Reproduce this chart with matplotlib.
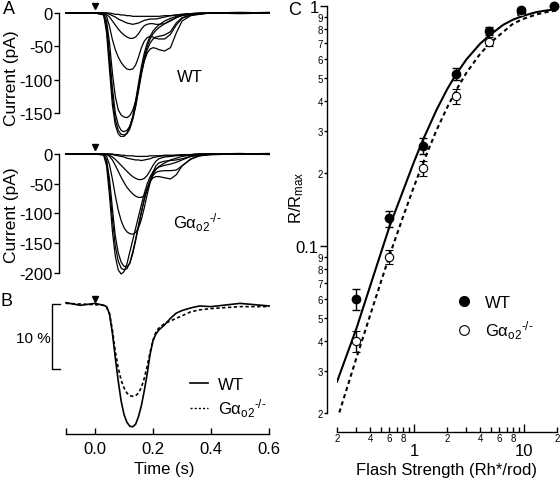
import matplotlib
matplotlib.use("Agg")
import matplotlib.pyplot as plt
from matplotlib.lines import Line2D
from matplotlib.ticker import FixedLocator, FixedFormatter

plt.rcParams['font.family'] = ['Liberation Sans', 'DejaVu Sans']
plt.rcParams['mathtext.fontset'] = 'custom'
plt.rcParams['mathtext.rm'] = 'Liberation Sans'
plt.rcParams['mathtext.it'] = 'Liberation Sans'
plt.rcParams['axes.linewidth'] = 1.0

# ---- data ----
# time samples (s) for the photocurrent traces
t = [-0.10, -0.05, 0.00, 0.03, 0.04, 0.05, 0.06, 0.07, 0.08, 0.09, 0.10, 0.11,
     0.12, 0.13, 0.14, 0.15, 0.16, 0.17, 0.18, 0.19, 0.20, 0.21, 0.22, 0.24,
     0.26, 0.28, 0.30, 0.33, 0.36, 0.40, 0.50, 0.60]
flash_time = 0.0

# WT family (pA)
wt_traces = [
    [0, 0, 0, -3, -30, -85, -138, -168, -181, -186, -185, -180, -170, -155, -132, -105,
     -80, -60, -45, -35, -27, -22, -18, -12, -8, -5, -3, -2, -1, 0, 1, 0],
    [0, 0, 0, -2, -22, -72, -125, -160, -176, -182, -183, -181, -174, -160, -140, -113,
     -87, -66, -50, -39, -31, -26, -22, -16, -11, -7, -4, -2, -1, 0, 0, 1],
    [0, 0, 0, -2, -18, -62, -112, -150, -168, -176, -178, -176, -170, -158, -140, -117,
     -92, -70, -55, -45, -39, -36, -35, -33, -28, -15, -7, -3, -1, 0, -1, 0],
    [0, 0, 0, -1, -12, -45, -90, -125, -145, -153, -156, -157, -154, -146, -132, -112,
     -90, -72, -60, -54, -52, -53, -55, -57, -52, -30, -12, -4, -2, 0, 0, 0],
    [0, 0, 0, 0, -5, -20, -40, -55, -66, -74, -80, -84, -85, -84, -78, -66,
     -52, -42, -37, -35, -36, -38, -39, -39, -32, -18, -8, -3, -1, 0, 0, 0],
    [0, 0, 0, 0, -2, -6, -12, -18, -24, -29, -33, -36, -38, -38, -36, -31,
     -24, -19, -17, -16, -16, -17, -17, -16, -12, -7, -3, -1, 0, 0, 0, 0],
    [0, 0, 0, 0, 0, -2, -4, -6, -9, -11, -13, -15, -16, -17, -16, -15,
     -13, -11, -10, -9, -9, -9, -8, -6, -4, -3, -2, -1, 0, 0, 0, 0],
    [0, 0, 0, 0, 0, 0, -1, -2, -2, -3, -3, -4, -4, -5, -5, -5,
     -5, -5, -5, -5, -5, -5, -5, -4, -4, -3, -2, -1, -1, 0, 0, 0],
]

# Gao2-/- family (pA)
ko_traces = [
    [0, 0, 0, -2, -20, -70, -130, -172, -195, -202, -198, -185, -165, -145, -125, -105,
     -85, -66, -50, -38, -30, -25, -21, -15, -10, -7, -4, -2, -1, 0, 1, -1],
    [0, 0, 0, -1, -14, -55, -110, -155, -180, -192, -195, -193, -183, -165, -143, -120,
     -97, -76, -58, -46, -40, -38, -38, -40, -42, -35, -20, -8, -3, -1, 0, 1],
    [0, 0, 0, -1, -10, -42, -92, -138, -166, -182, -189, -190, -184, -168, -146, -122,
     -98, -76, -58, -45, -36, -31, -29, -28, -28, -27, -20, -9, -3, -1, 0, 0],
    [0, 0, 0, 0, -4, -18, -42, -70, -94, -112, -124, -131, -134, -135, -132, -124,
     -110, -90, -68, -48, -34, -26, -22, -19, -17, -14, -10, -4, -2, 0, 0, 0],
    [0, 0, 0, 0, -1, -4, -10, -19, -29, -39, -48, -56, -62, -67, -71, -73,
     -73, -70, -60, -45, -30, -20, -15, -12, -11, -10, -8, -4, -2, 0, 0, 0],
    [0, 0, 0, 0, 0, -2, -5, -9, -14, -19, -24, -29, -34, -38, -41, -43,
     -43, -41, -36, -28, -19, -12, -8, -5, -4, -3, -2, -1, 0, 0, 0, 0],
    [0, 0, 0, 0, 0, 0, -1, -2, -3, -4, -5, -7, -8, -9, -10, -10,
     -11, -10, -9, -8, -6, -5, -4, -3, -3, -2, -2, -1, 0, 0, 0, 0],
    [0, 0, 0, 0, 0, 0, 0, -1, -1, -2, -2, -3, -3, -3, -4, -4,
     -4, -4, -4, -3, -3, -3, -3, -2, -2, -2, -1, -1, 0, 0, 0, 0],
]

# panel B: normalised single photon responses (% of Rmax)
b_wt = [0.2, -0.2, 0.1, -0.2, -0.4, -1.5, -4.5, -8.3, -11.8, -14.9, -17.0, -18.2,
        -18.8, -18.9, -18.5, -17.3, -15.6, -13.3, -10.7, -7.7, -5.6, -4.6, -4.0, -3.2,
        -2.2, -1.4, -1.0, -0.6, -0.3, -0.4, 0.1, -0.3]
b_ko = [0.1, 0.0, -0.1, -0.2, -0.5, -1.5, -4.0, -7.3, -9.8, -11.7, -12.9, -13.7,
        -14.1, -14.2, -14.1, -13.7, -12.8, -11.4, -9.5, -7.4, -5.6, -4.3, -3.7, -3.0,
        -2.6, -2.2, -1.8, -1.2, -0.9, -0.7, -0.4, -0.4]
scale_bar_pct = 10

# panel C: intensity-response
flash = [0.3, 0.6, 1.2, 2.4, 4.8, 9.4, 18.8]
r_wt = [0.06, 0.13, 0.26, 0.52, 0.79, 0.96, 1.0]
e_wt = [0.006, 0.01, 0.02, 0.03, 0.03, 0.02, 0.0]
r_ko = [0.04, 0.09, 0.21, 0.42, 0.71, 0.94, 1.0]
e_ko = [0.004, 0.006, 0.015, 0.03, 0.03, 0.02, 0.0]

fit_x_wt = [0.2, 0.3, 0.45, 0.6, 0.8, 1.0, 1.2, 1.6, 2.0, 2.4, 3.0, 4.0, 5.0,
            6.5, 8.0, 10.0, 13.0, 16.0, 20.0]
fit_wt = [0.027, 0.045, 0.080, 0.120, 0.170, 0.223, 0.274, 0.367, 0.448, 0.516,
          0.598, 0.696, 0.762, 0.835, 0.878, 0.912, 0.943, 0.958, 0.970]
fit_x_ko = [0.21, 0.3, 0.45, 0.6, 0.8, 1.0, 1.2, 1.6, 2.0, 2.4, 3.0, 4.0, 5.0,
            6.5, 8.0, 10.0, 13.0, 16.0, 20.0]
fit_ko = [0.0201, 0.0339, 0.0605, 0.0908, 0.1325, 0.176, 0.219, 0.302, 0.376,
          0.442, 0.526, 0.631, 0.705, 0.780, 0.845, 0.885, 0.922, 0.943, 0.958]

ko_label = 'G$\\alpha_{\\rm o2}{}^{\\rm \u2010/\u2010}$'


def fx(px):
    return px / 560.0


def fy(py):
    return 1 - py / 481.0


fig = plt.figure(figsize=(5.6, 4.81), dpi=100)

axA1 = fig.add_axes([fx(59), fy(138), 211 / 560, 135 / 481])
axA2 = fig.add_axes([fx(59), fy(278), 211 / 560, 136 / 481])
axB = fig.add_axes([fx(59), fy(435), 211 / 560, 142 / 481])
axC = fig.add_axes([fx(337), fy(414), 220 / 560, 407 / 481])

#Panel A
for ax, traces, ylim, yt, arrow_y in [(axA1, wt_traces, (-186, 16.5), [0, -50, -100, -150], 10.5),
                                      (axA2, ko_traces, (-207, 21.9), [0, -50, -100, -150, -200], 11.8)]:
    for tr in traces:
        ax.plot(t, tr, color='k', lw=0.9)
    ax.set_xlim(-0.124, 0.603)
    ax.set_ylim(*ylim)
    for s in ['top', 'right', 'bottom']:
        ax.spines[s].set_visible(False)
    ax.spines['left'].set_bounds(min(yt), 0)
    ax.set_xticks([])
    ax.set_yticks(yt)
    ax.set_yticklabels([str(v) for v in yt])
    ax.tick_params(axis='y', direction='out', length=3.5, width=1, labelsize=12, pad=1)
    ax.plot([flash_time], [arrow_y], marker='v', color='k', ms=5, clip_on=False)
    ax.patch.set_visible(False)

fig.text(fx(12), fy(78), 'Current (pA)', rotation=90, ha='center', va='center', fontsize=12.5)
fig.text(fx(12), fy(215), 'Current (pA)', rotation=90, ha='center', va='center', fontsize=12.5)
fig.text(fx(177), fy(78), 'WT', ha='left', va='center', fontsize=12)
fig.text(fx(173), fy(223), ko_label, ha='left', va='center', fontsize=12)

#Panel B
axB.plot(t, b_wt, color='k', lw=1.2)
axB.plot(t, b_ko, color='k', lw=1.2, ls=(0, (2, 1.5)))
axB.set_xlim(-0.124, 0.603)
axB.set_ylim(-20, 1.85)
for s in ['top', 'right', 'left']:
    axB.spines[s].set_visible(False)
axB.spines['bottom'].set_bounds(-0.1, 0.6)
axB.set_yticks([])
axB.set_xticks([0.0, 0.2, 0.4, 0.6])
axB.set_xticklabels(['0.0', '0.2', '0.4', '0.6'])
axB.xaxis.set_minor_locator(FixedLocator([-0.1]))
axB.tick_params(axis='x', which='both', direction='in', length=4, width=1, labelsize=12, pad=5)
axB.set_xlabel('Time (s)', fontsize=12, labelpad=4)
axB.plot([flash_time], [0.77], marker='v', color='k', ms=5, clip_on=False)
axB.plot([-0.121, -0.148, -0.148, -0.121], [0, 0, -scale_bar_pct, -scale_bar_pct],
         color='k', lw=1, clip_on=False)
fig.text(fx(33), fy(339), '10 %', ha='center', va='center', fontsize=11)
axB.legend([Line2D([], [], color='k', lw=1.2), Line2D([], [], color='k', lw=1.0, ls=(0, (1.5, 1.5)))],
           ['WT', ko_label], loc='upper left', bbox_to_anchor=(0.58, 0.46), frameon=False,
           fontsize=12, handlelength=1.1, handletextpad=0.6, labelspacing=0.25, borderpad=0)
axB.patch.set_visible(False)

#Panel C
axC.set_xscale('log')
axC.set_yscale('log')
axC.plot(fit_x_wt, fit_wt, color='k', lw=1.5)
axC.plot(fit_x_ko, fit_ko, color='k', lw=1.5, ls=(0, (2, 1.6)))
axC.errorbar(flash, r_ko, yerr=e_ko, fmt='o', mfc='white', mec='k', ecolor='k', ms=6,
             capsize=3, elinewidth=1, capthick=1, mew=0.8, clip_on=False)
axC.errorbar(flash, r_wt, yerr=e_wt, fmt='o', mfc='k', mec='k', ecolor='k', ms=6,
             capsize=3, elinewidth=1, capthick=1, clip_on=False)
axC.set_xlim(0.2, 20)
axC.set_ylim(0.02, 1)
for s in ['top', 'right']:
    axC.spines[s].set_visible(False)
axC.spines['left'].set_position(('outward', 7.2))
axC.spines['bottom'].set_position(('outward', 13.7))

xminor = [0.2, 0.3, 0.4, 0.5, 0.6, 0.7, 0.8, 0.9, 2, 3, 4, 5, 6, 7, 8, 9, 20]
xminor_lab = ['2', '', '4', '', '6', '', '8', '', '2', '', '4', '', '6', '', '8', '', '2']
axC.xaxis.set_major_locator(FixedLocator([1, 10]))
axC.xaxis.set_major_formatter(FixedFormatter(['1', '10']))
axC.xaxis.set_minor_locator(FixedLocator(xminor))
axC.xaxis.set_minor_formatter(FixedFormatter(xminor_lab))
axC.tick_params(axis='x', which='major', direction='in', length=6, width=1, labelsize=12, pad=8)
axC.tick_params(axis='x', which='minor', direction='in', length=3.5, width=1, labelsize=7, pad=1)

yminor = [0.02, 0.03, 0.04, 0.05, 0.06, 0.07, 0.08, 0.09, 0.2, 0.3, 0.4, 0.5, 0.6, 0.7, 0.8, 0.9]
yminor_lab = ['2', '3', '4', '5', '6', '7', '8', '9', '2', '3', '4', '5', '6', '7', '8', '9']
axC.yaxis.set_major_locator(FixedLocator([0.1, 1]))
axC.yaxis.set_major_formatter(FixedFormatter(['0.1', '1']))
axC.yaxis.set_minor_locator(FixedLocator(yminor))
axC.yaxis.set_minor_formatter(FixedFormatter(yminor_lab))
axC.tick_params(axis='y', which='major', direction='out', length=5, width=1, labelsize=12, pad=1)
axC.tick_params(axis='y', which='minor', direction='out', length=2.5, width=1, labelsize=7, pad=0.5)
axC.set_xlabel('Flash Strength (Rh*/rod)', fontsize=12, labelpad=3)
fig.text(fx(297), fy(198), r'R/R$_{\rm max}$', rotation=90, ha='center', va='center', fontsize=12)
axC.legend([Line2D([], [], marker='o', ls='none', mfc='k', mec='k', ms=7),
            Line2D([], [], marker='o', ls='none', mfc='white', mec='k', ms=7, mew=0.8)],
           ['WT', ko_label], loc='upper left', bbox_to_anchor=(0.5, 0.31), frameon=False,
           fontsize=12, handlelength=1.0, handletextpad=0.8, labelspacing=0.5, borderpad=0)
axC.patch.set_visible(False)

fig.text(fx(3), fy(1), 'A', ha='left', va='top', fontsize=13)
fig.text(fx(0), fy(293), 'B', ha='left', va='top', fontsize=13)
fig.text(fx(288), fy(2), 'C', ha='left', va='top', fontsize=13)

fig.savefig('out.png', dpi=100)
